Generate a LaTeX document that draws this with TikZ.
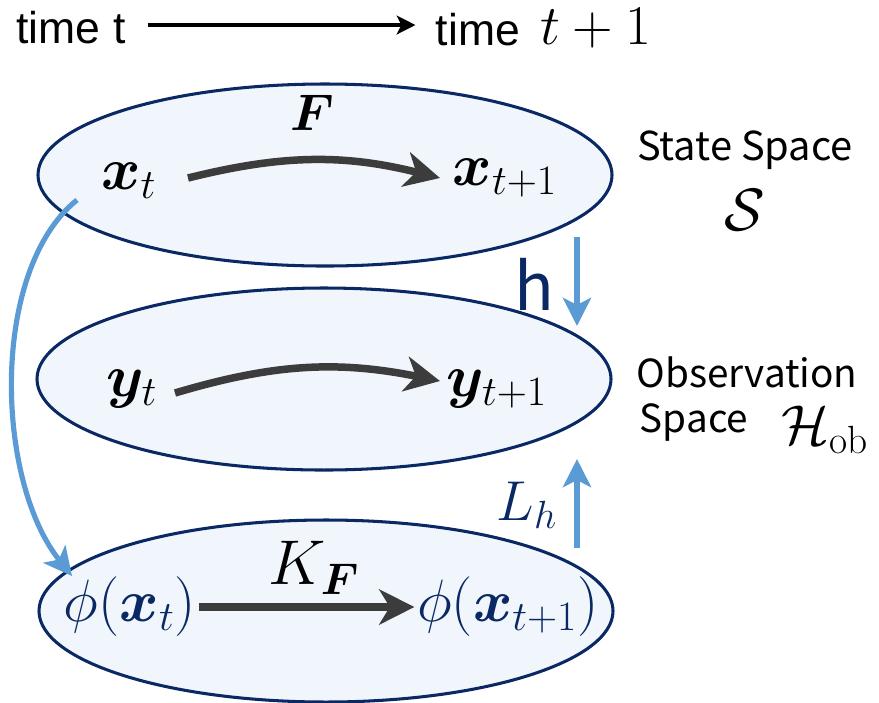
\RequirePackage{fix-cm}
\documentclass[tikz,border=0pt]{standalone}
\usepackage{amsmath,bm}
\usepackage{fontspec}
\newfontfamily\timefont{Liberation Sans}
\newfontfamily\gothic{Noto Sans CJK JP}
\usetikzlibrary{arrows.meta,shapes.geometric,calc}
\definecolor{navy}{RGB}{10,40,100}
\definecolor{lightbg}{RGB}{240,246,251}
\definecolor{lblue}{RGB}{91,155,213}
\definecolor{darkarr}{RGB}{60,60,60}
\tikzset{
  space/.style={ellipse, draw=navy, line width=1.3pt, fill=lightbg, inner sep=0pt,
    minimum width=8.61cm, minimum height=2.73cm},
  mathlbl/.style={inner sep=1pt, font=\fontsize{25.5}{30}\selectfont},
  darkarrow/.style={draw=darkarr, line width=3.2pt, -{Stealth[length=15pt,width=15pt,inset=4.5pt]}},
  bluearrow/.style={draw=lblue, line width=2.2pt, -{Stealth[length=12pt,width=12pt,inset=3pt]}},
  timearrow/.style={draw=black, line width=1.8pt, -{Stealth[length=8pt,width=8pt,inset=2pt]}},
  sanslbl/.style={inner sep=0pt, font=\gothic\fontsize{16.5}{20}\selectfont, align=left},
}
\begin{document}
\begin{tikzpicture}[x=0.015cm,y=-0.015cm]
\useasboundingbox (0,0) rectangle (879,702);
% ellipses
\node[space] (top) at (325,175) {};
\node[space] (mid) at (324,379) {};
\node[space] (bot) at (326,611) {};
% time row
\node[inner sep=0pt, font=\timefont\fontsize{19}{22}\selectfont] (time0) at (71,28) {time t};
\node[inner sep=0pt, font=\timefont\fontsize{19}{22}\selectfont] (time1) at (478,30) {time};
\node[inner sep=0pt, font=\fontsize{24}{28}\selectfont] (tp1) at (596,28) {$t+1$};
\draw[timearrow] ($(time0.east)+(22,-3)$) -- ($(time1.west)+(-20,-5)$);
% top ellipse
\node[mathlbl] (xt) at (129,181) {$\bm{x}_t$};
\node[mathlbl] (xt1) at (505,178) {$\bm{x}_{t+1}$};
\node[mathlbl, font=\fontsize{22}{26}\selectfont] (F) at (312,113) {$\bm{F}$};
\draw[darkarrow] (188,178) to[bend left=14] (440,178);
% middle
\node[mathlbl] (yt) at (132,389) {$\bm{y}_t$};
\node[mathlbl] (yt1) at (497,389) {$\bm{y}_{t+1}$};
\draw[darkarrow] (175,393) to[bend left=14] (440,381);
% bottom
\node[mathlbl, text=navy] (pxt) at (130,607) {$\phi(\bm{x}_t)$};
\node[mathlbl, text=navy] (pxt1) at (508,607) {$\phi(\bm{x}_{t+1})$};
\node[mathlbl, font=\fontsize{27}{30}\selectfont] (KF) at (314,568) {$K_{\bm{F}}$};
\draw[darkarrow] (pxt.east) -- (pxt1.west);
% right labels
\node[sanslbl, font=\gothic\fontsize{17}{21}\selectfont] (ss) at (745,150) {State Space};
\node[mathlbl] (S) at (745,210) {$\mathcal{S}$};
\node[sanslbl] (obs) at (747,372) {Observation};
\node[sanslbl] (spc) at (694,422) {Space};
\node[mathlbl, font=\fontsize{24}{28}\selectfont] (Hob) at (825,430) {$\mathcal{H}_{\mathrm{ob}}$};
% h and L_h
\node[inner sep=0pt, text=navy, font=\gothic\fontsize{28}{32}\selectfont] (h) at (534,284) {h};
\coordinate (hs) at (577,237);
\coordinate (he) at (577,326);
\draw[bluearrow] (hs) -- (he);
\node[mathlbl, text=navy, font=\fontsize{24}{28}\selectfont] (Lh) at (527,505) {$L_h$};
\coordinate (ls) at (577,548);
\coordinate (le) at (577,459);
\draw[bluearrow] (ls) -- (le);
% lifting curve
\coordinate (cs) at (77,200);
\coordinate (ce) at (72,576);
\draw[bluearrow] (cs) .. controls (-10,270) and (-5,480) .. (ce);
\end{tikzpicture}
\end{document}
